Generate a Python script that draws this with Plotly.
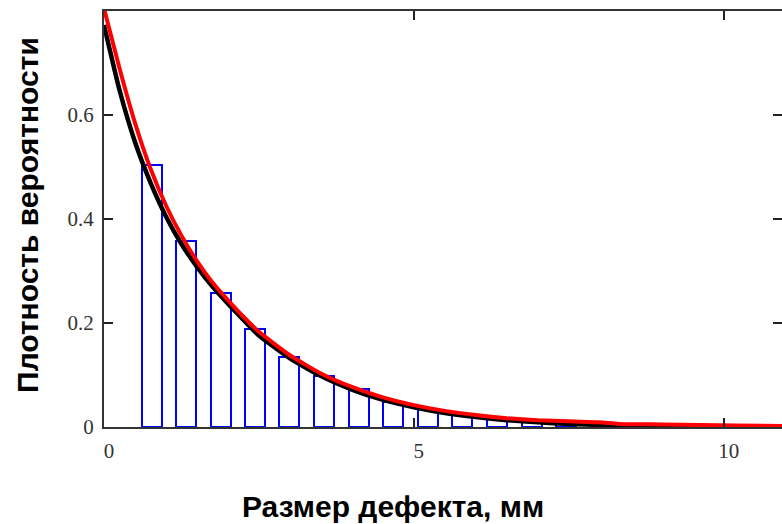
import plotly.graph_objects as go

# Histogram (bar centres, heights)
bar_x = [0.77, 1.32, 1.88, 2.44, 2.99, 3.55, 4.11, 4.67, 5.22, 5.78,
         6.34, 6.90, 7.46, 8.02, 8.57, 9.13, 9.69]
bar_h = [0.504, 0.358, 0.257, 0.188, 0.134, 0.099, 0.0725, 0.049, 0.034,
         0.023, 0.015, 0.010, 0.007, 0.003, 0.001, 0.001, 0.001]
bar_width = 0.323

# Black density curve
black_x = [0, 0.25, 0.5, 0.75, 1.0, 1.25, 1.5, 1.75, 2.0, 2.25, 2.5, 3.0,
           3.5, 4.0, 4.5, 5.0, 5.5, 6.0, 6.5, 7.0, 7.5, 8.0, 9.0, 10.1]
black_y = [0.773, 0.648, 0.548, 0.470, 0.405, 0.352, 0.308, 0.270, 0.237,
           0.206, 0.176, 0.132, 0.098, 0.072, 0.052, 0.038, 0.027, 0.019,
           0.013, 0.009, 0.006, 0.004, 0.002, 0.001]

# Red density curve
red_x = [0, 0.25, 0.5, 0.75, 1.0, 1.25, 1.5, 1.75, 2.0, 2.25, 2.5, 3.0,
         3.5, 4.0, 4.5, 5.0, 5.5, 6.0, 6.5, 7.0, 7.5, 8.0, 8.3, 9.0, 10.2, 11.0]
red_y = [0.805, 0.69, 0.585, 0.497, 0.426, 0.368, 0.319, 0.278, 0.244,
         0.212, 0.183, 0.138, 0.103, 0.077, 0.057, 0.042, 0.031, 0.023,
         0.017, 0.013, 0.011, 0.009, 0.006, 0.005, 0.003, 0.002]

x_ticks = [0, 5, 10]
y_ticks = [0, 0.2, 0.4, 0.6]
y_tick_text = ["0", "0.2", "0.4", "0.6"]
x_title = "Размер дефекта, мм"
y_title = "Плотность вероятности"

fig = go.Figure()
fig.add_trace(go.Bar(
    x=bar_x, y=bar_h, width=bar_width,
    marker=dict(color="rgba(0,0,0,0)", line=dict(color="#0000FF", width=2)),
    showlegend=False,
))
fig.add_trace(go.Scatter(
    x=black_x, y=black_y, mode="lines",
    line=dict(color="#000000", width=4.5, shape="spline", smoothing=0.5),
    showlegend=False,
))
fig.add_trace(go.Scatter(
    x=red_x, y=red_y, mode="lines",
    line=dict(color="#FF0000", width=4, shape="spline", smoothing=0.5),
    showlegend=False,
))
# invisible trace to create the right-hand tick axis
fig.add_trace(go.Scatter(x=[None], y=[None], yaxis="y2", showlegend=False))

tick_font = dict(family="Liberation Serif", size=21, color="#333333")
title_font = dict(family="Liberation Sans", size=30, color="#000000", weight="bold")

fig.update_layout(
    width=782, height=524,
    margin=dict(l=104, r=0, t=11, b=97),
    paper_bgcolor="white", plot_bgcolor="white",
    bargap=0,
    xaxis=dict(
        range=[0, 10.94], tickvals=x_ticks, ticktext=[str(v) for v in x_ticks],
        ticks="inside", ticklen=9, tickwidth=2, tickcolor="#222222",
        showline=True, linecolor="#333333", linewidth=2, mirror="ticks",
        showgrid=False, zeroline=False, tickfont=tick_font,
        ticklabelshift=5, ticklabelstandoff=4,
    ),
    yaxis=dict(
        range=[0, 0.8], tickvals=y_ticks, ticktext=y_tick_text,
        ticks="inside", ticklen=9, tickwidth=2, tickcolor="#222222",
        showline=True, linecolor="#333333", linewidth=2,
        showgrid=False, zeroline=False, tickfont=tick_font,
        ticklabelstandoff=4,
    ),
    yaxis2=dict(
        overlaying="y", side="right", matches="y", range=[0, 0.8],
        tickvals=[0.2, 0.4, 0.6], ticks="inside", ticklen=9, tickwidth=2,
        tickcolor="#222222", showticklabels=False, showline=False,
        showgrid=False, zeroline=False,
    ),
    annotations=[
        dict(text=x_title, xref="paper", yref="paper", x=0.426, y=-0.19,
             xanchor="center", yanchor="middle", showarrow=False,
             font=title_font),
        dict(text=y_title, xref="paper", yref="paper", x=-0.112, y=0.51,
             xanchor="center", yanchor="middle", showarrow=False, textangle=-90,
             font=title_font),
    ],
)

fig.write_html(
    "out.html",
    config={"displayModeBar": False},
    post_script="document.body.style.margin='0';document.body.style.overflow='hidden';",
)
